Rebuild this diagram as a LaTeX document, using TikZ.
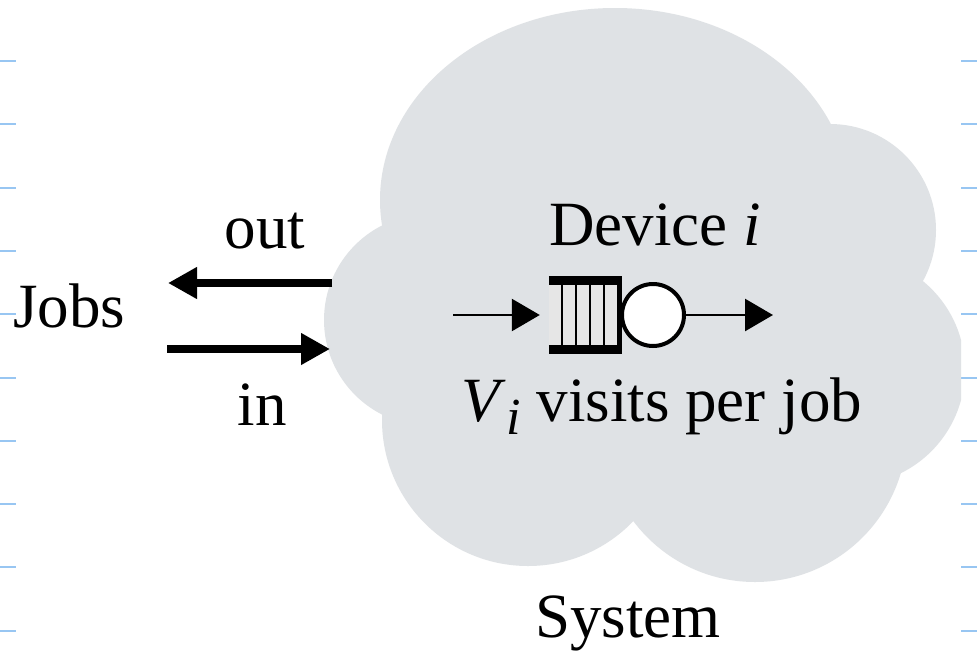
\documentclass[tikz,border=0pt]{standalone}
\usepackage{fontspec}
\setmainfont{Liberation Serif}
\usepackage{tikz}
\usetikzlibrary{arrows.meta}
\definecolor{CloudGray}{HTML}{DFE2E5}
\definecolor{QueueGray}{HTML}{E6E6E6}
\definecolor{RuleBlue}{HTML}{98C6F2}
\tikzset{
  TX/.style={font=\fontsize{63}{70}\selectfont,inner sep=0pt,anchor=base},
  bigarr/.style={-{Triangle[length=29pt,width=30pt]},line width=8pt},
  smarr/.style={-{Triangle[length=28pt,width=32pt]},line width=2.6pt},
  bump/.style={fill=CloudGray},
  ruletick/.style={RuleBlue,line width=2.6pt}
}
\begin{document}
\begin{tikzpicture}[x=1pt,y=-1pt]
  \useasboundingbox (0,0) rectangle (977,662);
  \fill[white] (0,0) rectangle (977,662);
  \foreach \yy in {61,124,188,251,314,378,441,504,567,631}{
    \draw[ruletick] (0,\yy)--(16,\yy);
    \draw[ruletick] (961,\yy)--(977,\yy);
  }
  \begin{scope}
    \clip (0,0) rectangle (961,662);
    \fill[bump] (430,320) circle (106);
    \fill[bump] (615,200) ellipse (235 and 192);
    \fill[bump] (830,230) circle (106);
    \fill[bump] (850,370) circle (115);
    \fill[bump] (755,430) circle (152);
    \fill[bump] (528,420) circle (146);
    \fill[bump] (650,330) ellipse (250 and 150);
  \end{scope}

  \node[minimum width=73pt,minimum height=68pt,inner sep=0pt] (queue) at (585.5,315) {};
  \fill[QueueGray] (queue.north west) rectangle (queue.south east);
  \foreach \xx in {562,576,590,604}
    \draw[line width=1.8pt] (\xx,281)--(\xx,349);
  \draw[line width=9pt] (queue.north west)--(queue.north east);
  \draw[line width=9pt] (queue.south west)--(queue.south east);
  \fill (617,277) rectangle (622,353);
  \node[draw,circle,line width=4pt,fill=white,minimum size=62pt,inner sep=0pt] (srv) at (653,315) {};

  \coordinate (qin) at (453,315);
  \coordinate (qout) at (773,315);
  \draw[smarr,shorten >=9pt] (qin)--(queue.west);
  \draw[smarr] (srv.east)--(qout);

  \coordinate (cOut) at (332,283);
  \coordinate (jOut) at (168,283);
  \coordinate (jIn) at (167,349);
  \coordinate (cIn) at (330,349);
  \draw[bigarr] (cOut)--(jOut);
  \draw[bigarr] (jIn)--(cIn);

  \node[TX] (lOut) at (265,248) {out};
  \node[TX,anchor=base west] (jobs) at (13,327) {Jobs};
  \node[TX] (lIn) at (262,425) {in};
  \node[TX] (dev) at (655,245) {Device \textit{i}};
  \node[TX] (visits) at (662,421) {\textit{V}\raisebox{-0.22em}{\fontsize{52}{60}\selectfont\textit{i}} visits per job};
  \node[TX] (sys) at (628,637) {System};
\end{tikzpicture}
\end{document}
